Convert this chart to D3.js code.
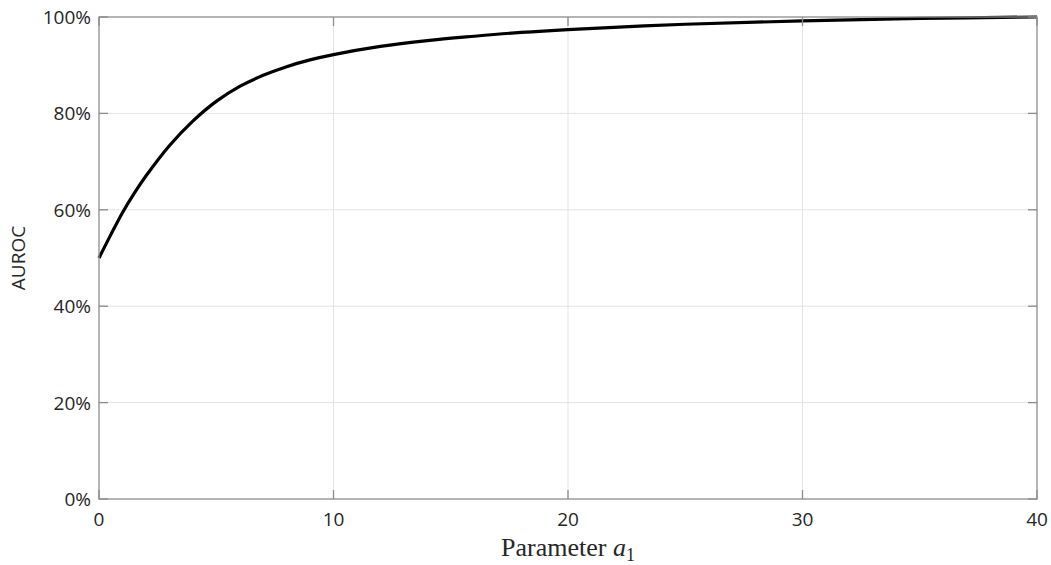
<!DOCTYPE html>
<html>
<head>
<meta charset="utf-8">
<script src="https://cdn.jsdelivr.net/npm/d3@7"></script>
<style>
	body { margin: 0; background: #fff; }
	.tick-label { font-family: "Open Sans", sans-serif; font-size: 19px; fill: #262626; }
	.grid line { stroke: #e3e3e3; stroke-width: 1; }
	.frame { fill: none; stroke: #8c8c8c; stroke-width: 1.3; }
	.tick-mark { stroke: #8c8c8c; stroke-width: 1.3; }
</style>
</head>
<body>
<svg id="chart" width="1051" height="565"></svg>
<script>
// parameter a1 and AUROC (%)
const a1 = [0, 0.5, 1, 1.5, 2, 3, 4, 5, 6, 7, 8, 9, 10, 12, 14, 16, 18, 20, 25, 30, 35, 40];
const auroc = [50.0, 54.8, 59.4, 63.4, 67.0, 73.3, 78.4, 82.5, 85.6, 87.9, 89.7, 91.1, 92.2, 93.9, 95.1, 96.0, 96.8, 97.4, 98.5, 99.2, 99.7, 100.0];
const xTicks = [0, 10, 20, 30, 40];
const yTicks = [0, 20, 40, 60, 80, 100];

const margin = {left: 99, right: 14, top: 17, bottom: 66};
const width = 1051, height = 565;
const svg = d3.select('#chart');

const x = d3.scaleLinear().domain([0, 40]).range([margin.left, width - margin.right]);
const y = d3.scaleLinear().domain([0, 100]).range([height - margin.bottom, margin.top]);
const tickLen = 9;

// grid
const grid = svg.append('g').attr('class', 'grid');
grid.selectAll('.gx').data(xTicks.slice(1, -1)).enter().append('line')
	.attr('x1', d => x(d)).attr('x2', d => x(d))
	.attr('y1', y(0)).attr('y2', y(100));
grid.selectAll('.gy').data(yTicks.slice(1, -1)).enter().append('line')
	.attr('x1', x(0)).attr('x2', x(40))
	.attr('y1', d => y(d)).attr('y2', d => y(d));

// curve
const data = a1.map((a, i) => ({a, v: auroc[i]}));
svg.append('path')
	.datum(data)
	.attr('fill', 'none')
	.attr('stroke', '#000')
	.attr('stroke-width', 3.2)
	.attr('d', d3.line().x(d => x(d.a)).y(d => y(d.v)).curve(d3.curveCatmullRom.alpha(0.5)));

// frame and inward ticks
svg.append('rect').attr('class', 'frame')
	.attr('x', x(0)).attr('y', y(100))
	.attr('width', x(40) - x(0)).attr('height', y(0) - y(100));

const ticks = svg.append('g');
xTicks.forEach(t => {
	ticks.append('line').attr('class', 'tick-mark')
		.attr('x1', x(t)).attr('x2', x(t)).attr('y1', y(0)).attr('y2', y(0) - tickLen);
	ticks.append('line').attr('class', 'tick-mark')
		.attr('x1', x(t)).attr('x2', x(t)).attr('y1', y(100)).attr('y2', y(100) + tickLen);
});
yTicks.forEach(t => {
	ticks.append('line').attr('class', 'tick-mark')
		.attr('x1', x(0)).attr('x2', x(0) + tickLen).attr('y1', y(t)).attr('y2', y(t));
	ticks.append('line').attr('class', 'tick-mark')
		.attr('x1', x(40)).attr('x2', x(40) - tickLen).attr('y1', y(t)).attr('y2', y(t));
});

// tick labels
svg.selectAll('.xl').data(xTicks).enter().append('text')
	.attr('class', 'tick-label')
	.attr('x', d => x(d)).attr('y', y(0) + 27)
	.attr('text-anchor', 'middle')
	.text(d => d);
svg.selectAll('.yl').data(yTicks).enter().append('text')
	.attr('class', 'tick-label')
	.attr('x', x(0) - 8).attr('y', d => y(d) + 7)
	.attr('text-anchor', 'end')
	.text(d => d + '%');

// axis titles
svg.append('text')
	.attr('class', 'tick-label')
	.attr('transform', `translate(25, ${(y(0) + y(100)) / 2}) rotate(-90)`)
	.attr('text-anchor', 'middle')
	.text('AUROC');

const xt = svg.append('text')
	.attr('x', x(20)).attr('y', 556)
	.attr('text-anchor', 'middle')
	.style('font-family', '"Liberation Serif", "DejaVu Serif", serif')
	.style('font-size', '26px')
	.style('fill', '#262626');
xt.append('tspan').text('Parameter ');
xt.append('tspan').style('font-style', 'italic').text('a');
xt.append('tspan').attr('dy', 5).style('font-size', '18px').text('1');
</script>
</body>
</html>
